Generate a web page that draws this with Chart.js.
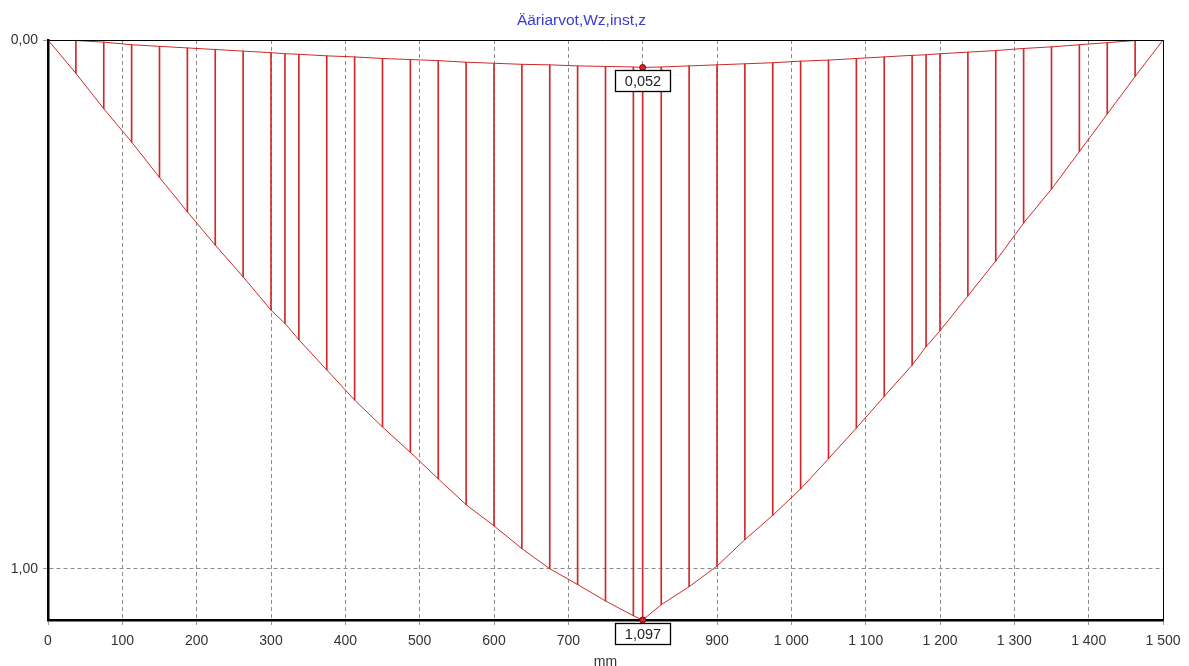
<!DOCTYPE html>
<html>
<head>
<meta charset="utf-8">
<script src="https://cdn.jsdelivr.net/npm/chart.js@4/dist/chart.umd.min.js"></script>
<style>
  html, body { margin: 0; padding: 0; background: #ffffff; }
  #wrap { width: 1189px; height: 666px; }
</style>
</head>
<body>
<div id="wrap"><canvas id="c" width="1189" height="666"></canvas></div>
<script>
// ---- data ----
const chartTitle = 'Ääriarvot,Wz,inst,z';
const xAxisTitle = 'mm';
const nodesX = [0, 37.5, 75, 112.5, 150, 187.5, 225, 262.5, 300, 318.75, 337.5, 375, 412.5, 450,
  487.5, 525, 562.5, 600, 637.5, 675, 712.5, 750, 787.5, 800, 825, 862.5, 900, 937.5, 975,
  1012.5, 1050, 1087.5, 1125, 1162.5, 1181.25, 1200, 1237.5, 1275, 1312.5, 1350, 1387.5, 1425, 1462.5, 1500];
const lowerW = [0, 0.063, 0.130, 0.193, 0.260, 0.325, 0.388, 0.448, 0.511, 0.536, 0.567, 0.624, 0.681, 0.732,
  0.780, 0.830, 0.879, 0.919, 0.962, 1.000, 1.030, 1.061, 1.089, 1.097, 1.068, 1.034, 0.995, 0.945, 0.899,
  0.849, 0.792, 0.734, 0.674, 0.615, 0.580, 0.550, 0.484, 0.418, 0.346, 0.282, 0.211, 0.140, 0.069, 0];
const upperW = [0, 0.001, 0.004, 0.009, 0.012, 0.015, 0.018, 0.021, 0.024, 0.026, 0.027, 0.030, 0.032, 0.035,
  0.037, 0.039, 0.042, 0.044, 0.046, 0.047, 0.049, 0.050, 0.051, 0.052, 0.051, 0.049, 0.047, 0.045, 0.043,
  0.040, 0.038, 0.035, 0.032, 0.029, 0.028, 0.026, 0.023, 0.020, 0.016, 0.013, 0.009, 0.005, 0.001, 0];
const xTickValues = [0, 100, 200, 300, 400, 500, 600, 700, 800, 900, 1000, 1100, 1200, 1300, 1400, 1500];
const yTickValues = [0, 1];

// ---- helpers ----
const RED = '#d02828';
const FONT = '"Liberation Sans", Arial, sans-serif';
function fmtComma(v, d) { return v.toFixed(d).replace('.', ','); }
function fmtThousands(v) {
  const s = String(Math.round(v));
  return s.replace(/\B(?=(\d{3})+(?!\d))/g, ' ');
}
const yMax = Math.max(...lowerW);

const frameAndLabels = {
  id: 'frameAndLabels',
  afterDraw(chart) {
    const { ctx, chartArea: a } = chart;
    ctx.save();
    // thin top and right frame
    ctx.strokeStyle = '#000';
    ctx.lineWidth = 1;
    ctx.beginPath();
    ctx.moveTo(a.left, Math.round(a.top) + 0.5);
    ctx.lineTo(a.right, Math.round(a.top) + 0.5);
    ctx.moveTo(Math.round(a.right) + 0.5, a.top);
    ctx.lineTo(Math.round(a.right) + 0.5, a.bottom);
    ctx.stroke();

    // extreme value markers + boxes
    [1, 2].forEach(di => {
      const ds = chart.data.datasets[di];
      const vals = ds.data.map(p => p.y);
      let idx = 0;
      vals.forEach((v, i) => { if (v > vals[idx]) idx = i; });
      const el = chart.getDatasetMeta(di).data[idx];
      const px = el.x, py = el.y;
      ctx.fillStyle = RED;
      ctx.strokeStyle = '#8a0000';
      ctx.lineWidth = 1;
      ctx.beginPath();
      ctx.arc(px, py, 3, 0, Math.PI * 2);
      ctx.fill();
      ctx.stroke();
      const txt = fmtComma(vals[idx], 3);
      ctx.font = '14.5px ' + FONT;
      const tw = ctx.measureText(txt).width;
      const bw = Math.round(tw + 19), bh = 21;
      const bx = Math.round(px - bw / 2) + 0.5, by = Math.round(py + 3) + 0.5;
      ctx.fillStyle = '#fff';
      ctx.fillRect(bx, by, bw, bh);
      ctx.strokeStyle = '#000';
      ctx.lineWidth = 1.3;
      ctx.strokeRect(bx, by, bw, bh);
      ctx.fillStyle = '#222';
      ctx.textAlign = 'center';
      ctx.textBaseline = 'middle';
      ctx.fillText(txt, bx + bw / 2, by + bh / 2 + 1);
    });
    ctx.restore();
  }
};

new Chart(document.getElementById('c'), {
  type: 'line',
  data: {
    datasets: [
      {
        type: 'bar',
        data: nodesX.map((x, i) => ({ x: x, y: [upperW[i], lowerW[i]] })),
        backgroundColor: RED,
        borderWidth: 0,
        barThickness: 1,
        order: 3
      },
      {
        data: nodesX.map((x, i) => ({ x: x, y: upperW[i] })),
        borderColor: RED,
        borderWidth: 1,
        pointRadius: 0,
        tension: 0,
        fill: false,
        order: 2
      },
      {
        data: nodesX.map((x, i) => ({ x: x, y: lowerW[i] })),
        borderColor: RED,
        borderWidth: 1,
        pointRadius: 0,
        tension: 0,
        fill: false,
        order: 1
      }
    ]
  },
  options: {
    responsive: false,
    animation: false,
    devicePixelRatio: 1,
    layout: { padding: { left: 0, right: 26, top: 0, bottom: 0 } },
    plugins: {
      legend: { display: false },
      tooltip: { enabled: false },
      title: {
        display: true,
        text: chartTitle,
        color: '#3a3ad2',
        font: { family: FONT, size: 15.5, weight: 'normal', lineHeight: 1.2 },
        padding: { top: 11, bottom: 10.4 }
      }
    },
    scales: {
      x: {
        type: 'linear',
        min: 0,
        max: 1500,
        offset: false,
        afterBuildTicks: s => { s.ticks = xTickValues.map(v => ({ value: v })); },
        afterFit: s => { s.height = 46; },
        ticks: {
          autoSkip: false,
          maxRotation: 0,
          padding: 8,
          color: '#333',
          font: { family: FONT, size: 14 },
          callback: v => fmtThousands(v)
        },
        grid: {
          offset: false,
          color: '#8c8c8c',
          lineWidth: 1,
          tickLength: 5,
          tickColor: '#9a9a9a',
          tickBorderDash: []
        },
        border: { display: true, color: '#000', width: 2.5, dash: [4, 3] },
        title: {
          display: true,
          text: xAxisTitle,
          color: '#333',
          font: { family: FONT, size: 14, lineHeight: 0.6 },
          padding: { top: 0, bottom: 0 }
        }
      },
      y: {
        type: 'linear',
        reverse: true,
        min: 0,
        max: yMax,
        afterBuildTicks: s => { s.ticks = yTickValues.map(v => ({ value: v })); },
        afterFit: s => { s.width = 48; },
        ticks: {
          padding: 5,
          color: '#333',
          font: { family: FONT, size: 14 },
          callback: v => fmtComma(v, 2)
        },
        grid: {
          color: '#8c8c8c',
          lineWidth: 1,
          tickLength: 5,
          tickColor: '#9a9a9a',
          tickBorderDash: []
        },
        border: { display: true, color: '#000', width: 2.5, dash: [4, 3] }
      }
    }
  },
  plugins: [frameAndLabels]
});
</script>
</body>
</html>
